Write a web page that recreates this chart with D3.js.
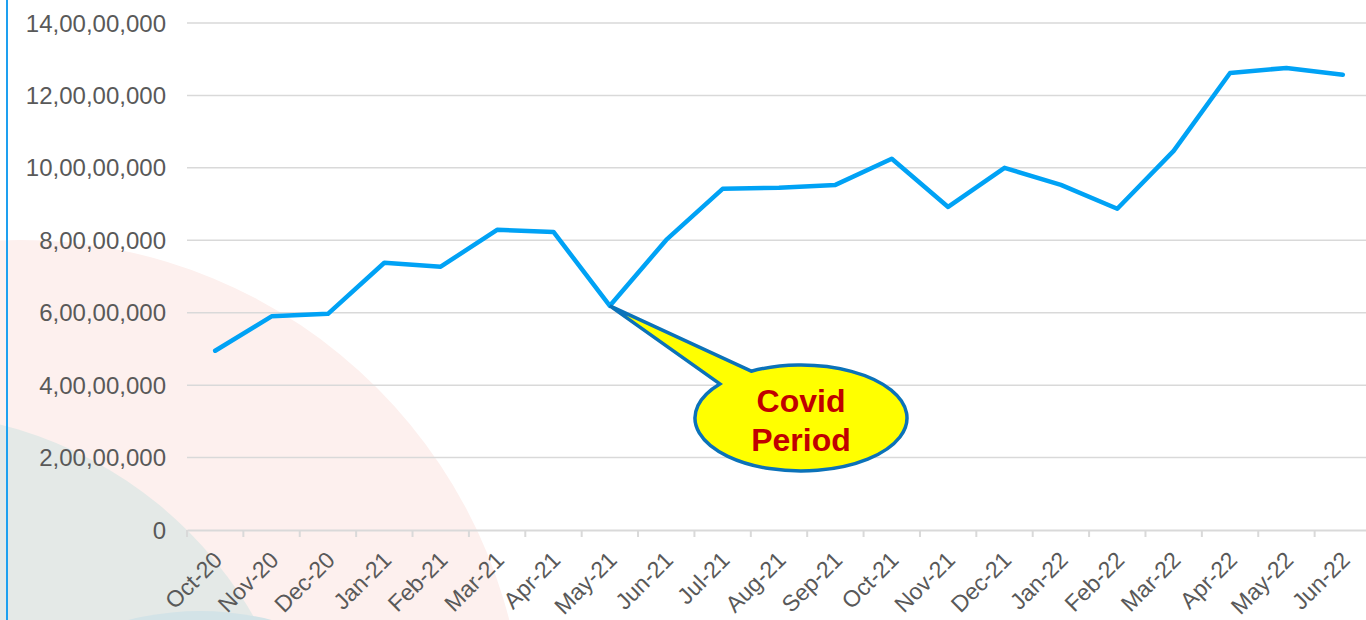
<!DOCTYPE html>
<html>
<head>
<meta charset="utf-8">
<script src="https://cdn.jsdelivr.net/npm/d3@7"></script>
<style>
  html, body { margin: 0; padding: 0; background: #fff; overflow: hidden; }
  svg { display: block; }
</style>
</head>
<body>
<div class="container"></div>
<script>
var months = ["Oct-20","Nov-20","Dec-20","Jan-21","Feb-21","Mar-21","Apr-21","May-21","Jun-21",
    "Jul-21","Aug-21","Sep-21","Oct-21","Nov-21","Dec-21","Jan-22","Feb-22","Mar-22","Apr-22","May-22","Jun-22"];
var values = [49500000, 59000000, 59700000, 73800000, 72700000, 82900000, 82300000, 61900000, 80100000,
    94200000, 94500000, 95300000, 102500000, 89200000, 100000000, 95300000, 88700000, 104700000,
    126200000, 127600000, 125700000];
var yTicks = [0, 20000000, 40000000, 60000000, 80000000, 100000000, 120000000, 140000000];
var calloutMonth = "May-21";
var calloutLines = ["Covid", "Period"];

// indian digit grouping, 14,00,00,000
function inr(n) {
    var s = Math.round(n).toString();
    if (s.length <= 3) return s;
    var last = s.slice(-3);
    var rest = s.slice(0, -3);
    var parts = [];
    while (rest.length > 2) {
        parts.unshift(rest.slice(-2));
        rest = rest.slice(0, -2);
    }
    if (rest.length) parts.unshift(rest);
    return parts.join(",") + "," + last;
}

var w = 1366;
var h = 620;

var svg = d3.select(".container")
    .append("svg")
    .attr("width", w)
    .attr("height", h);

// decorative background circles
svg.append("circle").attr("cx", 20).attr("cy", 745).attr("r", 505).attr("fill", "#fdf0ee");
svg.append("circle").attr("cx", -100).attr("cy", 820).attr("r", 408).attr("fill", "#e4e9e7");
svg.append("circle").attr("cx", 200).attr("cy", 900).attr("r", 289).attr("fill", "#d3e3e7");

// thin blue border on the left
svg.append("line")
    .attr("x1", 7).attr("x2", 7)
    .attr("y1", 0).attr("y2", h)
    .attr("stroke", "#1ea0f0")
    .attr("stroke-width", 2);

var x = d3.scaleBand()
    .domain(months)
    .range([187, 1371]);

var y = d3.scaleLinear()
    .domain([0, 140000000])
    .range([530, 23]);

// gridlines
svg.append("g")
    .selectAll("line")
    .data(yTicks.slice(1))
    .enter()
    .append("line")
    .attr("x1", 187)
    .attr("x2", w)
    .attr("y1", function(d) { return y(d); })
    .attr("y2", function(d) { return y(d); })
    .attr("stroke", "#d9d9d9")
    .attr("stroke-width", 1.5);

// y labels
svg.append("g")
    .selectAll("text")
    .data(yTicks)
    .enter()
    .append("text")
    .attr("x", 166)
    .attr("y", function(d) { return y(d); })
    .attr("dy", "0.36em")
    .attr("text-anchor", "end")
    .style("font-family", "'Liberation Sans', Arial, sans-serif")
    .style("font-size", "24px")
    .attr("fill", "#595959")
    .text(function(d) { return inr(d); });

// x axis: line + ticks at band edges
var xAxis = d3.axisBottom(x).tickSize(0).tickFormat("");
var xAxisGroup = svg.append("g")
    .attr("class", "xaxis")
    .attr("transform", "translate(0,530)")
    .call(xAxis);
xAxisGroup.select(".domain").attr("stroke", "#d9d9d9").attr("stroke-width", 2);

var edges = months.map(function(m) { return x(m); });
svg.append("g")
    .selectAll("line")
    .data(edges)
    .enter()
    .append("line")
    .attr("x1", function(d) { return d; })
    .attr("x2", function(d) { return d; })
    .attr("y1", 530)
    .attr("y2", 537)
    .attr("stroke", "#d9d9d9")
    .attr("stroke-width", 2);

svg.append("g")
    .selectAll("text")
    .data(months)
    .enter()
    .append("text")
    .attr("text-anchor", "end")
    .attr("transform", function(d) {
        return "translate(" + (x(d) + x.bandwidth() / 2 - 3) + "," + 550 + ")rotate(-45)";
    })
    .style("font-family", "'Liberation Sans', Arial, sans-serif")
    .style("font-size", "23px")
    .attr("fill", "#595959")
    .attr("dy", "0.7em")
    .text(function(d) { return d; });

// the line
var line = d3.line()
    .x(function(d, i) { return x(months[i]) + x.bandwidth() / 2; })
    .y(function(d) { return y(d); });

svg.append("path")
    .datum(values)
    .attr("d", line)
    .attr("fill", "none")
    .attr("stroke", "#00a2f5")
    .attr("stroke-width", 4.5)
    .attr("stroke-linejoin", "round")
    .attr("stroke-linecap", "round");

// callout bubble
var ci = months.indexOf(calloutMonth);
var tipX = x(calloutMonth) + x.bandwidth() / 2;
var tipY = y(values[ci]);
var ecx = 801, ecy = 418, erx = 106, ery = 53;
var a1 = -140 * Math.PI / 180;
var a2 = -118 * Math.PI / 180;
var p1 = [ecx + erx * Math.cos(a1), ecy + ery * Math.sin(a1)];
var p2 = [ecx + erx * Math.cos(a2), ecy + ery * Math.sin(a2)];

svg.append("path")
    .attr("d", "M" + p2[0] + "," + p2[1] +
        "L" + tipX + "," + tipY +
        "L" + p1[0] + "," + p1[1] +
        "A" + erx + "," + ery + " 0 1 0 " + p2[0] + "," + p2[1] + "Z")
    .attr("fill", "#ffff00")
    .attr("stroke", "#0b72b9")
    .attr("stroke-width", 3.5)
    .attr("stroke-linejoin", "miter");

svg.append("g")
    .selectAll("text")
    .data(calloutLines)
    .enter()
    .append("text")
    .attr("x", ecx)
    .attr("y", function(d, i) { return 412 + i * 39; })
    .attr("text-anchor", "middle")
    .style("font-family", "'Liberation Sans', Arial, sans-serif")
    .style("font-weight", "bold")
    .style("font-size", "32px")
    .attr("fill", "#c00000")
    .text(function(d) { return d; });
</script>
</body>
</html>
